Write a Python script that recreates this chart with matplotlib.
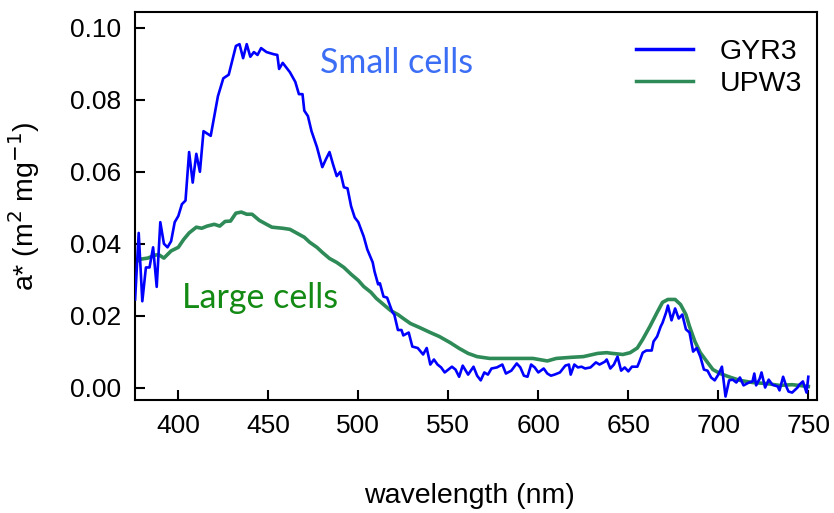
import numpy as np
import matplotlib
matplotlib.use('Agg')
import matplotlib.pyplot as plt

plt.rcParams['font.family'] = ['Liberation Sans', 'DejaVu Sans']

# GYR3 (small cells)
gyr3_wl = [376, 378, 380, 382, 384, 386, 388, 390, 392, 394, 396, 398, 400, 402, 404, 406, 408, 410, 412, 414,
           418, 422, 425, 428, 432, 434, 436, 438, 440, 442, 444, 446, 449, 453, 455, 456, 458, 462, 465, 467,
           469, 470, 472, 474, 477, 480, 482, 484, 486, 488, 490, 492, 494, 496, 498, 500, 503, 505, 508, 509,
           511, 512, 514, 516, 519, 520, 522, 524, 525, 528, 530, 533, 536, 538, 540, 542, 544, 546, 548, 552,
           554, 556, 558, 561, 564, 566, 568, 570, 572, 574, 577, 580, 582, 585, 588, 590, 592, 594, 596, 598,
           600, 603, 605, 607, 609, 612, 615, 617, 618, 620, 622, 624, 626, 629, 632, 634, 637, 638, 640, 642,
           644, 646, 648, 650, 652, 655, 656, 658, 660, 663, 664, 666, 668, 669, 671, 672, 674, 676, 678, 680,
           682, 684, 686, 688, 690, 692, 694, 696, 698, 700, 702, 704, 706, 708, 710, 712, 714, 717, 719, 720,
           721, 723, 724, 726, 728, 730, 733, 734, 736, 738, 739, 741, 744, 745, 747, 749, 750]
gyr3_a = [0.0245, 0.043, 0.024, 0.0334, 0.0334, 0.039, 0.028, 0.046, 0.040, 0.039, 0.0407, 0.046, 0.0477, 0.051,
          0.052, 0.0655, 0.057, 0.065, 0.060, 0.0713, 0.070, 0.081, 0.086, 0.087, 0.095, 0.0955, 0.0916, 0.0955,
          0.092, 0.0933, 0.0925, 0.0944, 0.0933, 0.0927, 0.0925, 0.0886, 0.0903, 0.0877, 0.085, 0.0816, 0.0816,
          0.077, 0.0755, 0.0713, 0.0669, 0.0613, 0.0635, 0.0655, 0.062, 0.0588, 0.060, 0.0557, 0.0554, 0.0504,
          0.0473, 0.046, 0.042, 0.0384, 0.0348, 0.0323, 0.0287, 0.029, 0.0253, 0.025, 0.0209, 0.0203, 0.016,
          0.016, 0.0145, 0.0153, 0.0114, 0.011, 0.0092, 0.011, 0.0064, 0.0078, 0.0064, 0.0056, 0.0042, 0.0058,
          0.005, 0.003, 0.0061, 0.0036, 0.0058, 0.0033, 0.002, 0.0042, 0.0036, 0.0053, 0.0056, 0.0064, 0.0039,
          0.0047, 0.0067, 0.0056, 0.0033, 0.003, 0.0064, 0.0056, 0.0042, 0.0053, 0.0039, 0.0033, 0.0036, 0.0042,
          0.0061, 0.0064, 0.0036, 0.0064, 0.0056, 0.0058, 0.0053, 0.0056, 0.007, 0.0064, 0.0072, 0.0078, 0.0053,
          0.0064, 0.0086, 0.0047, 0.0056, 0.0045, 0.0058, 0.0058, 0.007, 0.0097, 0.0103, 0.0103, 0.0128, 0.0142,
          0.017, 0.018, 0.0209, 0.0228, 0.0187, 0.022, 0.0192, 0.0203, 0.0162, 0.0153, 0.010, 0.011, 0.0086,
          0.005, 0.0047, 0.0028, 0.002, 0.0036, 0.0058, -0.0025, 0.002, 0.0022, 0.0014, 0.0028, 0.0006, 0.0014,
          0.0017, 0.0039, 0.0006, 0.0025, 0.0042, 0.0, 0.0022, 0.0008, 0.0003, -0.0008, 0.003, 0.0, -0.0011,
          -0.0014, 0.0, 0.0008, 0.0017, -0.0014, 0.003]

# UPW3 (large cells)
upw3_wl = [376, 379, 383, 387, 389, 392, 396, 400, 403, 406, 410, 413, 416, 420, 423, 426, 429, 432, 435, 438,
           441, 445, 449, 452, 458, 462, 466, 470, 473, 477, 480, 484, 488, 492, 496, 500, 503, 507, 510, 514,
           518, 522, 525, 529, 534, 540, 545, 551, 556, 561, 566, 573, 579, 586, 592, 597, 605, 610, 618, 625,
           633, 638, 641, 647, 651, 655, 658, 662, 666, 669, 672, 676, 679, 682, 684, 687, 690, 694, 697, 701,
           707, 712, 719, 727, 734, 741, 750]
upw3_a = [0.0348, 0.0357, 0.036, 0.0368, 0.037, 0.036, 0.038, 0.039, 0.0412, 0.043, 0.0446, 0.0443, 0.0449,
          0.0454, 0.0449, 0.0462, 0.0463, 0.0485, 0.0488, 0.0482, 0.0482, 0.0465, 0.0454, 0.0446, 0.0443, 0.044,
          0.0429, 0.0418, 0.0404, 0.039, 0.0376, 0.0359, 0.0348, 0.0334, 0.0315, 0.0298, 0.0281, 0.0265, 0.0248,
          0.0231, 0.0214, 0.0203, 0.0192, 0.0178, 0.0167, 0.0153, 0.0142, 0.0125, 0.0109, 0.0095, 0.0086, 0.0081,
          0.0081, 0.0081, 0.0081, 0.0081, 0.0074, 0.0081, 0.0084, 0.0086, 0.0095, 0.0097, 0.0095, 0.0092, 0.0097,
          0.011, 0.0134, 0.017, 0.0209, 0.0237, 0.0245, 0.0245, 0.0231, 0.0203, 0.017, 0.0128, 0.0097, 0.007,
          0.005, 0.0039, 0.0028, 0.002, 0.0014, 0.0011, 0.0006, 0.0008, 0.0003]

xticks = [400, 450, 500, 550, 600, 650, 700, 750]
yticks = [0.00, 0.02, 0.04, 0.06, 0.08, 0.10]

fig = plt.figure(figsize=(8.34, 5.13), dpi=100)
ax = fig.add_axes([0.162, 0.220, 0.818, 0.757])

ax.plot(gyr3_wl, gyr3_a, color='#0000ff', lw=1.9, label='GYR3', zorder=3)
ax.plot(upw3_wl, upw3_a, color='#2e8b57', lw=2.6, label='UPW3', zorder=2)

ax.set_xlim(376, 755)
ax.set_ylim(-0.0035, 0.1045)
ax.set_xticks(xticks)
ax.set_yticks(yticks)
ax.set_yticklabels(['%.2f' % v for v in yticks])
ax.tick_params(direction='in', length=7, width=1.5, labelsize=19, pad=10)
for s in ax.spines.values():
    s.set_linewidth(1.5)

ax.set_xlabel('wavelength (nm)', fontsize=20.5)
ax.xaxis.set_label_coords(0.49, -0.213)
ax.set_ylabel('a* (m$^2$ mg$^{-1}$)', fontsize=20.5)
ax.yaxis.set_label_coords(-0.137, 0.5)

ax.text(521.5, 0.0902, 'Small cells', color='#3b6ef5', fontsize=24.5, family='Lato',
        ha='center', va='center')
ax.text(445.5, 0.0250, 'Large cells', color='#138a13', fontsize=24.5, family='Lato',
        ha='center', va='center')

leg = ax.legend(loc='upper right', bbox_to_anchor=(0.978, 0.93), frameon=False, fontsize=20.5,
                handlelength=2.0, handletextpad=0.95, labelspacing=0.22, borderaxespad=0,
                borderpad=0)
for h in leg.get_lines():
    h.set_linewidth(2.5)

fig.savefig('out.png', dpi=100)
